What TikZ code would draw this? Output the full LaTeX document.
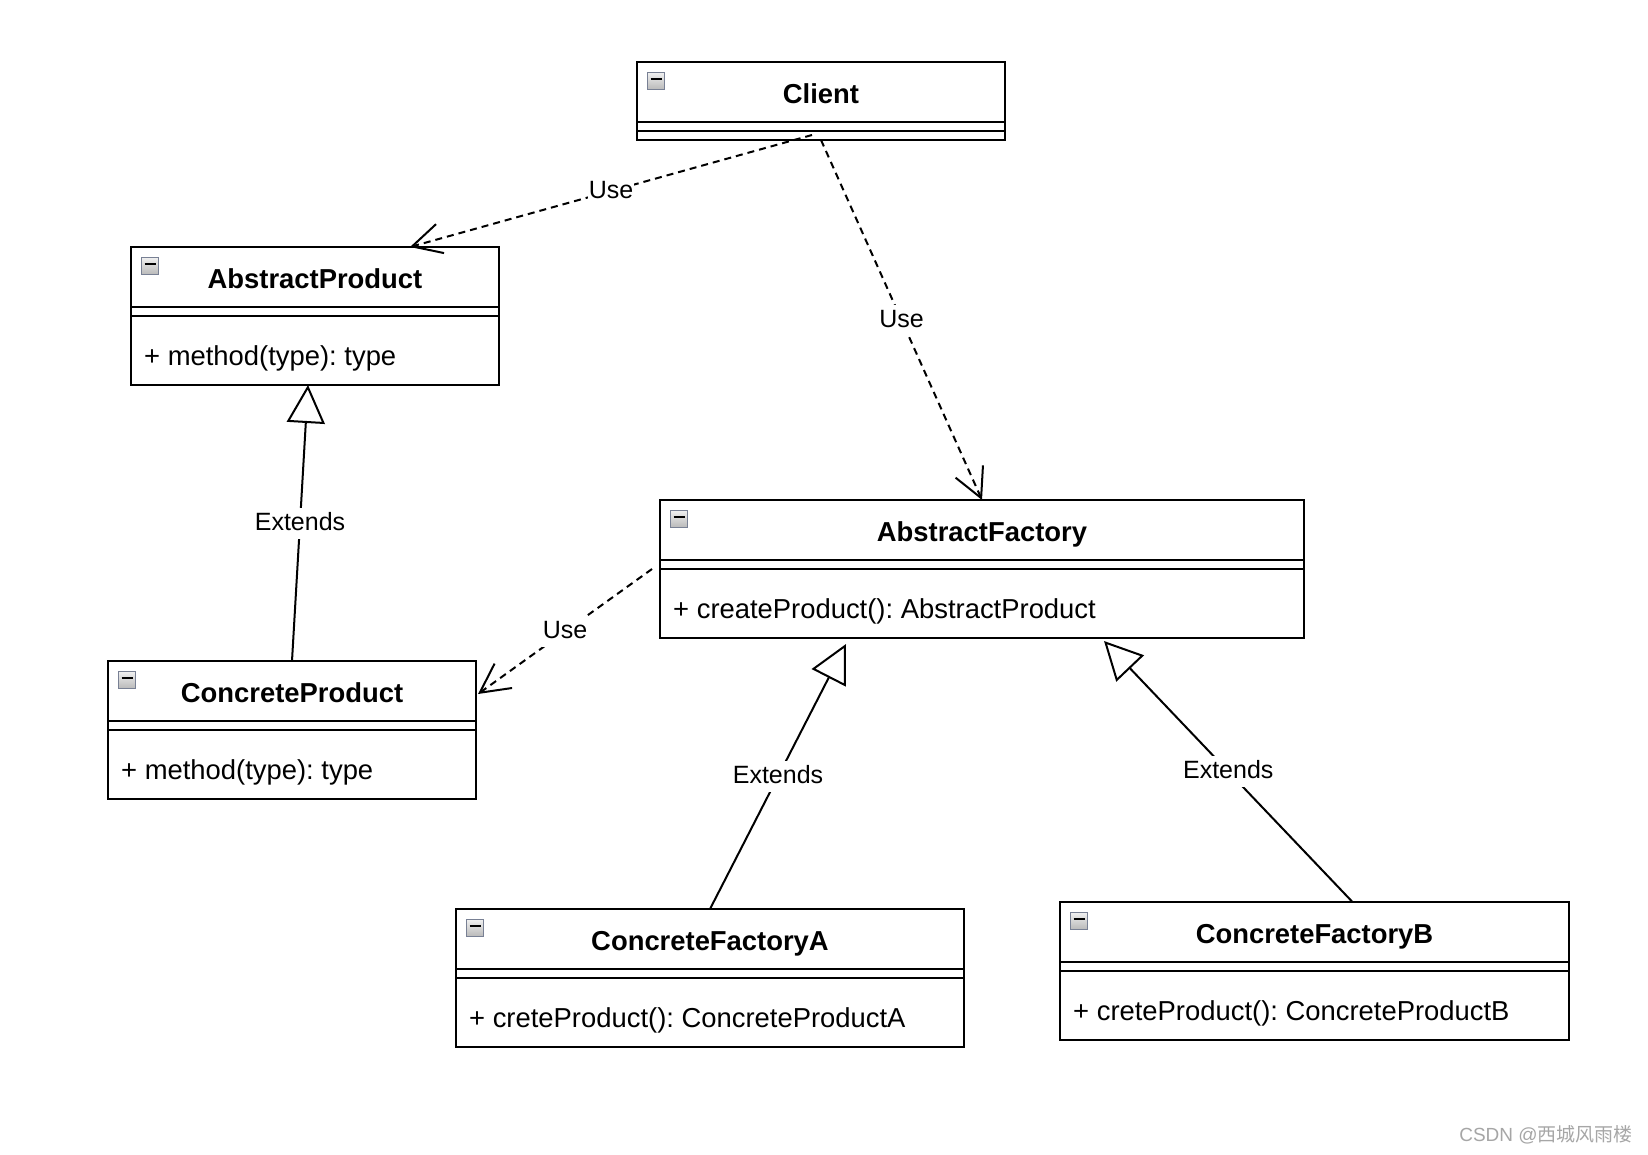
\documentclass[tikz,border=0pt]{standalone}
\usepackage{fontspec}
\setmainfont{Liberation Sans}
\newfontfamily\cjkfont{Noto Sans CJK SC}
\usetikzlibrary{arrows.meta}
\definecolor{foldedge}{RGB}{120,128,148}
\tikzstyle{classbox}=[draw, line width=2pt, inner sep=0, outer sep=0, anchor=north west]
\tikzstyle{divider}=[line width=2pt]
\tikzstyle{foldbox}=[draw=foldedge, line width=1pt, top color=gray!12, bottom color=gray!55,
                     minimum size=17, inner sep=0, outer sep=0]
\tikzstyle{classname}=[font=\fontsize{27.4}{32}\selectfont\bfseries, inner sep=0, anchor=base]
\tikzstyle{member}=[font=\fontsize{27.4}{32}\selectfont, inner sep=0, anchor=base west]
\tikzstyle{relname}=[font=\fontsize{25}{30}\selectfont, fill=white, inner xsep=1pt, inner ysep=2.5pt,
                     text height=20pt, text depth=6pt]
% dashed dependency with an open barb, solid generalisation with a hollow triangle
\tikzstyle{usesrel}=[line width=2pt, dash pattern=on 7pt off 5pt,
                     -{Straight Barb[length=29pt, width=30pt]}]
\tikzstyle{extendsrel}=[line width=2pt, -{Triangle[open, length=38pt, width=38pt]}]
% name, x, y, width, height, title
\newcommand{\umlclass}[6]{%
    \node[classbox, minimum width=#4, minimum height=#5] (#1) at (#2, #3) {};
    \node[foldbox] (#1-fold) at ([xshift=19, yshift=-19]#1.north west) {};
    \draw[line width=2.4pt] ([xshift=-5.5, yshift=2]#1-fold.center) -- ([xshift=5.5, yshift=2]#1-fold.center);
    \node[classname] (#1-name) at ([yshift=-41]#1.north) {#6};
    \draw[divider] ([yshift=-60]#1.north west) -- ([yshift=-60]#1.north east);
    \draw[divider] ([yshift=-69]#1.north west) -- ([yshift=-69]#1.north east);
}

\begin{document}
\frenchspacing
\begin{tikzpicture}[x=1pt, y=-1pt]
    \fill[white] (0, 0) rectangle (1648, 1154);
    \useasboundingbox (0, 0) rectangle (1648, 1154);

    \umlclass{client}{637}{62}{368}{78}{Client}
    \umlclass{abstractproduct}{131}{247}{368}{138}{AbstractProduct}
    \umlclass{concreteproduct}{108}{661}{368}{138}{ConcreteProduct}
    \umlclass{abstractfactory}{660}{500}{644}{138}{AbstractFactory}
    \umlclass{concretefactorya}{456}{909}{508}{138}{ConcreteFactoryA}
    \umlclass{concretefactoryb}{1060}{902}{509}{138}{ConcreteFactoryB}

    \node[member] (abstractproduct-op) at ([xshift=13, yshift=-118]abstractproduct.north west) {+ method(type): type};
    \node[member] (concreteproduct-op) at ([xshift=13, yshift=-118]concreteproduct.north west) {+ method(type): type};
    \node[member] (abstractfactory-op) at ([xshift=13, yshift=-118]abstractfactory.north west) {+ createProduct(): AbstractProduct};
    \node[member] (concretefactorya-op) at ([xshift=13, yshift=-118]concretefactorya.north west) {+ creteProduct(): ConcreteProductA};
    \node[member] (concretefactoryb-op) at ([xshift=13, yshift=-118]concretefactoryb.north west) {+ creteProduct(): ConcreteProductB};

    \draw[usesrel] ([xshift=-9, yshift=5]client.south) -- ([xshift=95]abstractproduct.north)
        node[relname, pos=0.5] (use1) {Use};
    \draw[usesrel] (client.south) -- (abstractfactory.north)
        node[relname, pos=0.5] (use2) {Use};
    \draw[usesrel] ([xshift=-8]abstractfactory.west) -- ([xshift=2, yshift=36]concreteproduct.east)
        node[relname, pos=0.5] (use3) {Use};

    \draw[extendsrel] (concreteproduct.north) -- ([xshift=-7]abstractproduct.south)
        node[relname, pos=0.5] (extends1) {Extends};
    \draw[extendsrel] (concretefactorya.north) -- ([xshift=-136, yshift=-6]abstractfactory.south)
        node[relname, pos=0.5] (extends2) {Extends};
    \draw[extendsrel] ([xshift=38]concretefactoryb.north) -- ([xshift=122, yshift=-3]abstractfactory.south)
        node[relname, pos=0.5] (extends3) {Extends};

    \node[font=\fontsize{19}{22}\selectfont, text=gray!70] (watermark) at (1546, 1135) {CSDN @{\cjkfont 西城风雨楼}};
\end{tikzpicture}
\end{document}
